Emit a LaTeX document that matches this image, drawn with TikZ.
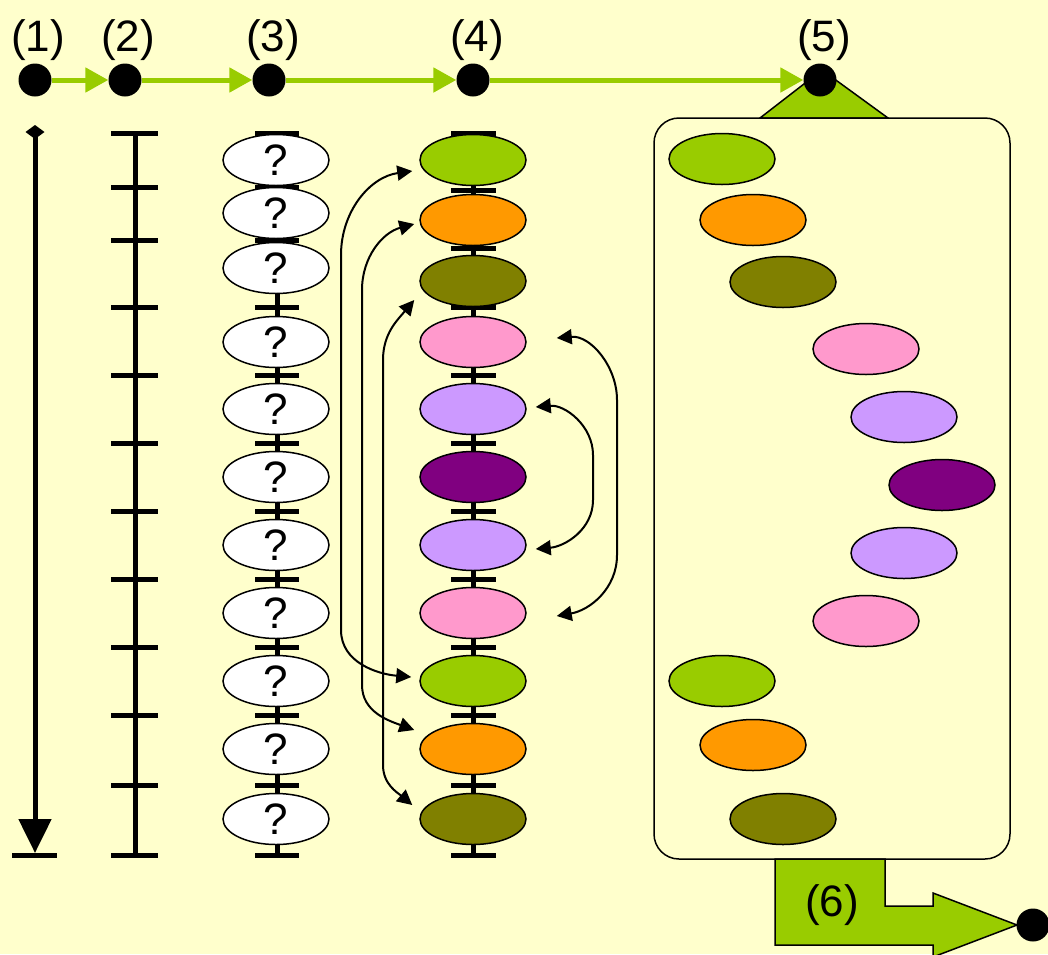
\documentclass[tikz,border=0pt]{standalone}
\usepackage{fontspec}
\setmainfont{Liberation Sans}
\usetikzlibrary{shapes.geometric, arrows.meta, positioning}
\definecolor{paper}{HTML}{FFFFCC}
\definecolor{lgreen}{HTML}{99CC00}
\definecolor{lorange}{HTML}{FF9900}
\definecolor{lolive}{HTML}{808000}
\definecolor{lpink}{HTML}{FF99CC}
\definecolor{llilac}{HTML}{CC99FF}
\definecolor{lplum}{HTML}{800080}
\tikzset{
  dot/.style={circle, fill=black, minimum size=33pt, inner sep=0pt},
  lab/.style={font=\fontsize{44}{48}\selectfont, anchor=base, inner sep=0pt},
  cell/.style={ellipse, draw=black, line width=1.5pt, minimum width=106pt, minimum height=51pt, inner sep=0pt, font=\fontsize{44}{48}\selectfont},
  flow/.style={lgreen, line width=5pt, -{Triangle[length=23pt,width=24pt]}},
  swap/.style={line width=2pt, {Triangle[length=15pt,width=15pt]}-{Triangle[length=15pt,width=15pt]}},
  bar/.style={line width=5pt},
}
\begin{document}
\begin{tikzpicture}[x=1pt,y=1pt]
\clip (0,0) rectangle (1048,-954);
\fill[paper] (0,0) rectangle (1048,-954);

% stage (5): box with the sorted cells
\draw[fill=lgreen, line width=1.5pt] (760,-118) -- (822,-70) -- (888,-118) -- cycle;
\draw[line width=1.5pt, rounded corners=25pt] (654,-118) rectangle (1010,-859);

% stage (6): arrow out of the box
\draw[fill=lgreen, line width=1.5pt] (775,-859) -- (885,-859) -- (885,-906) -- (933,-906) -- (933,-893) -- (1017,-925) -- (933,-957) -- (933,-945) -- (775,-945) -- cycle;
\node[lab] (l6) at (832,-916) {(6)};
\node[dot] (p6) at (1033,-925) {};

% top row of stages
\node[dot] (p1) at (35,-80) {};
\node[dot] (p2) at (125,-80) {};
\node[dot] (p3) at (269,-80) {};
\node[dot] (p4) at (473,-80) {};
\node[dot] (p5) at (820,-80) {};
\node[lab] (l1) at (38,-51) {(1)};
\node[lab] (l2) at (128,-51) {(2)};
\node[lab] (l3) at (273,-51) {(3)};
\node[lab] (l4) at (477,-51) {(4)};
\node[lab] (l5) at (824,-51) {(5)};
\draw[flow] (p1) -- (p2);
\draw[flow] (p2) -- (p3);
\draw[flow] (p3) -- (p4);
\draw[flow] (p4) -- (p5);

% (1) the whole range
\draw[bar, {Diamond[length=14pt,width=19pt]}-{Triangle[length=34pt,width=32pt]}] (35,-125) -- (35,-853);
\draw[bar] (12,-855) -- (57,-855);

% (2) cut into pieces
\draw[bar] (135,-133) -- (135,-855);
\draw[bar] \foreach \y in {133,187,240,307,375,443,511,579,647,715,785,855} {(111,-\y) -- (158,-\y)};

% (3) unknown pieces
\draw[bar] (277,-133) -- (277,-855);
\draw[bar] \foreach \y in {133,187,240,307,375,443,511,579,647,715,785,855} {(255,-\y) -- (299,-\y)};
\foreach \y [count=\i] in {160,213,268,342,409,477,545,613,681,749,819}
  \node[cell, fill=white] (q\i) at (276,-\y) {?};

% (4) coloured pieces
\draw[bar] (473,-133) -- (473,-855);
\draw[bar] \foreach \y in {133,190,248,307,375,443,511,579,647,715,785,855} {(451,-\y) -- (496,-\y)};
\foreach \y/\c [count=\i] in {160/lgreen,220/lorange,281/lolive,342/lpink,409/llilac,477/lplum,545/llilac,613/lpink,681/lgreen,749/lorange,819/lolive}
  \node[cell, fill=\c] (d\i) at (473,-\y) {};

% matching pairs
\draw[swap] ([xshift=-7pt,yshift=-11pt]d1.west) to[out=188,in=90] (341,-255) -- (341,-630) to[out=-90,in=175] ([xshift=-8pt,yshift=4pt]d9.west);
\draw[swap] ([xshift=-5pt,yshift=-4pt]d2.west) to[out=195,in=90] (362,-290) -- (362,-685) to[out=-90,in=160] ([xshift=-5pt,yshift=19pt]d10.west);
\draw[swap] ([xshift=-5pt,yshift=-19pt]d3.west) to[out=230,in=90] (383,-360) -- (383,-765) to[out=-90,in=140] ([xshift=-7pt,yshift=14pt]d11.west);
\draw[swap] ([xshift=30pt,yshift=4pt]d4.east) to[out=5,in=90] (617,-400) -- (617,-555) to[out=-90,in=10] ([xshift=30pt,yshift=-3pt]d8.east);
\draw[swap] ([xshift=9pt,yshift=2pt]d5.east) to[out=5,in=90] (593,-455) -- (593,-500) to[out=-90,in=5] ([xshift=9pt,yshift=-4pt]d7.east);

% (5) pieces ordered
\foreach \x/\y/\c [count=\i] in {722/159/lgreen,753/220/lorange,783/282/lolive,866/349/lpink,904/417/llilac,942/485/lplum,904/553/llilac,866/621/lpink,722/681/lgreen,753/745/lorange,783/819/lolive}
  \node[cell, fill=\c] (e\i) at (\x,-\y) {};
\end{tikzpicture}
\end{document}
